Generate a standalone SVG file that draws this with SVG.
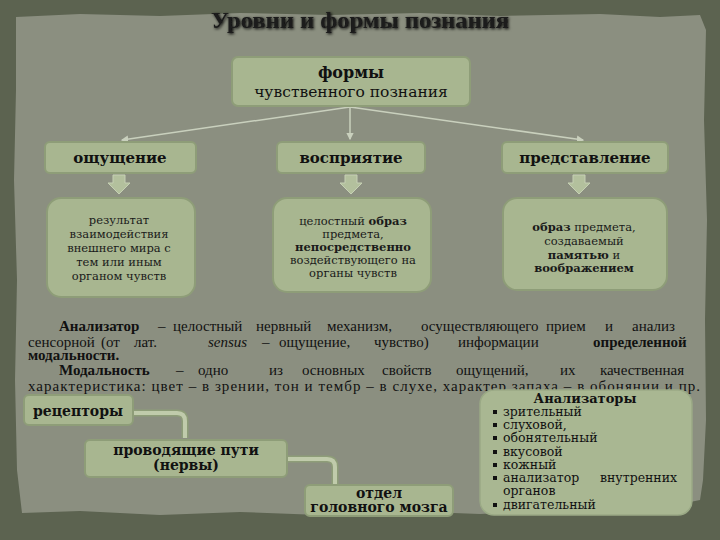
<svg xmlns="http://www.w3.org/2000/svg" width="720" height="540" viewBox="0 0 720 540">
<style>
.box{fill:#a8b690;stroke:#8e9d78;stroke-width:2}
.hdr{font-family:"DejaVu Serif","Liberation Serif",serif;font-weight:bold;font-size:15px;fill:#111;text-anchor:middle}
.reg{font-weight:normal}
.desc{font-family:"DejaVu Serif","Liberation Serif",serif;font-size:11.5px;fill:#1a1a1a;text-anchor:middle}
.b{font-weight:bold}
.para{font-family:"Liberation Serif","DejaVu Serif",serif;font-size:15px;fill:#111}
.lbl{font-family:"DejaVu Serif","Liberation Serif",serif;font-weight:bold;font-size:14px;fill:#111;text-anchor:middle}
.lst{font-family:"DejaVu Serif","Liberation Serif",serif;font-size:12.5px;fill:#111}
.thin{stroke:#c9d0bd;stroke-width:1.5;fill:none}
.pipeo{stroke:#8e9d78;stroke-width:7;fill:none;stroke-linecap:butt}
.pipei{stroke:#c0cbab;stroke-width:4;fill:none;stroke-linecap:butt}
.barr{fill:#b3c09d;stroke:#c6d0b4;stroke-width:1}
</style>
<defs>
<marker id="ah" viewBox="0 0 6 6" refX="5" refY="3" markerWidth="5" markerHeight="5" orient="auto"><path d="M0,0 L6,3 L0,6 z" fill="#c9d0bd"/></marker>
<filter id="sh" x="-10%" y="-30%" width="120%" height="160%"><feGaussianBlur in="SourceAlpha" stdDeviation="1.5"/><feOffset dx="1" dy="1" result="b"/><feMerge><feMergeNode in="b"/><feMergeNode in="SourceGraphic"/></feMerge></filter>
</defs>
<rect x="0" y="0" width="720" height="540" fill="#5c6350"/>
<path d="M16,17 L80,14 L160,16 L240,13 L330,15 L420,13 L500,16 L600,14 L660,17 L700,15 L706,30 L704,120 L707,220 L705,320 L706,420 L703,480 L700,500 L640,512 L560,510 L480,514 L400,511 L320,515 L240,512 L160,515 L80,511 L22,513 L17,470 L15,380 L17,280 L14,180 L16,90 Z" fill="#8b8f80"/>
<text x="360" y="28" font-family="'Liberation Serif','DejaVu Serif',serif" font-weight="bold" font-size="23" fill="#1a1a1a" text-anchor="middle" textLength="298" lengthAdjust="spacingAndGlyphs" filter="url(#sh)">Уровни и формы познания</text>
<g id="connectors">
<line class="thin" x1="350" y1="107" x2="122" y2="140" marker-end="url(#ah)"/>
<line class="thin" x1="350" y1="107" x2="350" y2="139" marker-end="url(#ah)"/>
<line class="thin" x1="350" y1="107" x2="583" y2="140" marker-end="url(#ah)"/>
<path class="barr" d="M113,175 H125 V183 H130 L119,194 L108,183 H113 Z"/>
<path class="barr" d="M345,175 H357 V183 H362 L351,194 L340,183 H345 Z"/>
<path class="barr" d="M573,175 H585 V183 H590 L579,194 L568,183 H573 Z"/>
<path class="pipeo" d="M134,413 H177 Q185,413 185,421 V438"/>
<path class="pipei" d="M134,413 H177 Q185,413 185,421 V438"/>
<path class="pipeo" d="M287,459 H327 Q335,459 335,467 V484"/>
<path class="pipei" d="M287,459 H327 Q335,459 335,467 V484"/>
</g>
<g id="top">
<rect class="box" x="232" y="57" width="238" height="49" rx="6"/>
<text class="hdr" x="351" y="78" style="font-size:16px">формы</text>
<text class="hdr reg" x="351" y="97" style="font-size:15.5px">чувственного  познания</text>
</g>
<g id="oshush">
<rect class="box" x="45" y="142" width="151" height="31" rx="5"/>
<text class="hdr" x="120" y="163">ощущение</text>
</g>
<g id="vospr">
<rect class="box" x="277" y="142" width="148" height="31" rx="5"/>
<text class="hdr" x="351" y="163">восприятие</text>
</g>
<g id="predst">
<rect class="box" x="502" y="142" width="166" height="31" rx="5"/>
<text class="hdr" x="585" y="163">представление</text>
</g>
<g id="oshush-desc">
<rect class="box" x="47" y="198" width="148" height="99" rx="14"/>
<text class="desc" x="119" y="224">результат</text>
<text class="desc" x="119" y="238">взаимодействия</text>
<text class="desc" x="119" y="252">внешнего мира с</text>
<text class="desc" x="119" y="266">тем или иным</text>
<text class="desc" x="119" y="280">органом чувств</text>
</g>
<g id="vospr-desc">
<rect class="box" x="273" y="198" width="158" height="94" rx="14"/>
<text class="desc" x="353" y="225">целостный <tspan class="b">образ</tspan></text>
<text class="desc" x="353" y="238">предмета,</text>
<text class="desc b" x="353" y="251">непосредственно</text>
<text class="desc" x="353" y="264">воздействующего на</text>
<text class="desc" x="353" y="277">органы чувств</text>
</g>
<g id="predst-desc">
<rect class="box" x="503" y="198" width="164" height="92" rx="14"/>
<text class="desc" x="584" y="231"><tspan class="b">образ</tspan> предмета,</text>
<text class="desc" x="584" y="245">создаваемый</text>
<text class="desc" x="584" y="259"><tspan class="b">памятью</tspan> и</text>
<text class="desc b" x="584" y="272">воображением</text>
</g>
<g id="paragraph" class="para">
<text y="331"><tspan x="59" font-weight="bold">Анализатор</tspan><tspan x="158">–</tspan><tspan x="173">целостный</tspan><tspan x="256">нервный</tspan><tspan x="327">механизм,</tspan><tspan x="421">осуществляющего</tspan><tspan x="546">прием</tspan><tspan x="605">и</tspan><tspan x="632">анализ</tspan></text>
<text y="347"><tspan x="28">сенсорной</tspan><tspan x="101">(от</tspan><tspan x="134">лат.</tspan><tspan x="208" font-style="italic">sensus</tspan><tspan x="262">–</tspan><tspan x="279">ощущение,</tspan><tspan x="374">чувство)</tspan><tspan x="458">информации</tspan><tspan x="593" font-weight="bold">определенной</tspan></text>
<text y="360" x="28" font-weight="bold">модальности.</text>
<text y="375"><tspan x="59" font-weight="bold">Модальность</tspan><tspan x="176">–</tspan><tspan x="198">одно</tspan><tspan x="269">из</tspan><tspan x="302">основных</tspan><tspan x="382">свойств</tspan><tspan x="456">ощущений,</tspan><tspan x="560">их</tspan><tspan x="600">качественная</tspan></text>
<text y="391" x="28" textLength="672" lengthAdjust="spacing">характеристика: цвет – в зрении, тон и тембр – в слухе, характер запаха – в обонянии и пр.</text>
</g>
<g id="receptors">
<rect class="box" x="24" y="395" width="109" height="30" rx="5"/>
<text class="lbl" x="78" y="416">рецепторы</text>
</g>
<g id="paths">
<rect class="box" x="85" y="440" width="202" height="37" rx="5"/>
<text class="lbl" x="186" y="455">проводящие пути</text>
<text class="lbl" x="186" y="470">(нервы)</text>
</g>
<g id="brain">
<rect class="box" x="305" y="485" width="148" height="31" rx="5"/>
<text class="lbl" x="379" y="498">отдел</text>
<text class="lbl" x="379" y="512">головного мозга</text>
</g>
<g id="analyzers">
<rect x="480" y="390" width="212" height="125" rx="14" fill="#a9b792" stroke="#9aa985" stroke-width="1.5"/>
<text x="585" y="403" font-family="'DejaVu Serif','Liberation Serif',serif" font-weight="bold" font-size="13" fill="#111" text-anchor="middle">Анализаторы</text>
<g fill="#111">
<rect x="493" y="410" width="4" height="4"/>
<rect x="493" y="423" width="4" height="4"/>
<rect x="493" y="436" width="4" height="4"/>
<rect x="493" y="450" width="4" height="4"/>
<rect x="493" y="463" width="4" height="4"/>
<rect x="493" y="476" width="4" height="4"/>
<rect x="493" y="503" width="4" height="4"/>
</g>
<g class="lst">
<text x="503" y="416">зрительный</text>
<text x="503" y="429">слуховой,</text>
<text x="503" y="442">обонятельный</text>
<text x="503" y="456">вкусовой</text>
<text x="503" y="469">кожный</text>
<text x="503" y="482">анализатор</text>
<text x="600" y="482">внутренних</text>
<text x="503" y="495">органов</text>
<text x="503" y="509">двигательный</text>
</g>
</g>
</svg>
